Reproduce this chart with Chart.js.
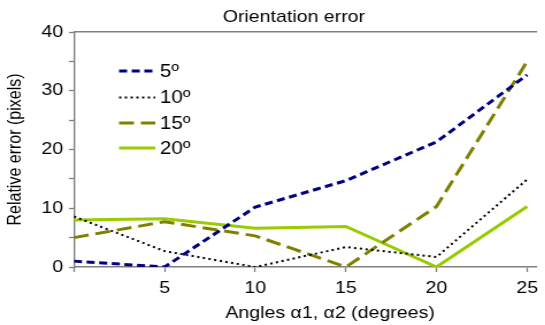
<!DOCTYPE html>
<html>
<head>
<meta charset="utf-8">
<script src="https://cdn.jsdelivr.net/npm/chart.js@4"></script>
<style>
  html, body { margin: 0; padding: 0; background: #fff; overflow: hidden; }
  /* the original picture is stretched sideways, so draw narrow and stretch */
  #wrap { width: 474px; height: 325px; transform: scaleX(1.15); transform-origin: 0 0; }
</style>
</head>
<body>
<div id="wrap"><canvas id="chart"></canvas></div>
<script>
// angles on the x axis (degrees)
var angles = [0, 5, 10, 15, 20, 25];
var yTicks = [0, 10, 20, 30, 40];

// relative error per orientation
var err5  = [1.0, 0.0, 10.2, 14.7, 21.3, 32.7];
var err10 = [8.6, 2.7, 0.0, 3.4, 1.7, 14.9];
var err15 = [5.0, 7.7, 5.3, 0.0, 10.3, 35.0];
var err20 = [8.0, 8.2, 6.6, 6.9, 0.0, 10.3];

var seriesNames = ['5º', '10º', '15º', '20º'];

var FONT = "'Liberation Sans', Arial, sans-serif";
var AXIS = '#7f7f7f';

function pts(vals) {
  return angles.map(function (a, i) { return { x: a, y: vals[i] }; });
}

var data = {
  datasets: [
    { label: seriesNames[0], data: pts(err5),  borderColor: '#000080', borderWidth: 3,   borderDash: [7, 4] },
    { label: seriesNames[1], data: pts(err10), borderColor: '#000000', borderWidth: 2,   borderDash: [2, 3] },
    { label: seriesNames[2], data: pts(err15), borderColor: '#808000', borderWidth: 3,   borderDash: [13, 6] },
    { label: seriesNames[3], data: pts(err20), borderColor: '#99cc00', borderWidth: 3 }
  ]
};

// titles and the legend drawn by hand (they sit off-centre / inside the plot)
var extras = {
  id: 'extras',
  afterDatasetsDraw: function (chart) {
    var ctx = chart.ctx;
    var area = chart.chartArea;
    ctx.save();
    ctx.fillStyle = '#000';
    ctx.textBaseline = 'middle';
    ctx.textAlign = 'center';
    ctx.font = '17px ' + FONT;
    ctx.fillText('Orientation error', 255.6, 17.5);
    ctx.fillText('Angles α1, α2 (degrees)', 287, 313);

    ctx.textAlign = 'left';
    var rows = [71, 97.5, 123, 148];
    chart.data.datasets.forEach(function (ds, i) {
      var y = area.top + rows[i] - 32;
      ctx.strokeStyle = ds.borderColor;
      ctx.lineWidth = ds.borderWidth;
      ctx.setLineDash(ds.borderDash || []);
      ctx.beginPath();
      ctx.moveTo(103.5, y);
      ctx.lineTo(135, y);
      ctx.stroke();
      ctx.setLineDash([]);
      ctx.font = '18px ' + FONT;
      ctx.fillText(ds.label, 139, y + 1);
    });
    ctx.restore();
  }
};

new Chart(document.getElementById('chart'), {
  type: 'line',
  data: data,
  plugins: [extras],
  options: {
    responsive: true,
    maintainAspectRatio: false,
    animation: false,
    layout: { padding: 0 },
    elements: {
      point: { radius: 0 },
      line: { tension: 0, borderCapStyle: 'butt', fill: false }
    },
    plugins: {
      legend: { display: false },
      title: { display: false },
      tooltip: { enabled: false }
    },
    scales: {
      x: {
        type: 'linear',
        min: 0,
        max: 25.5,
        afterBuildTicks: function (s) {
          s.ticks = angles.map(function (v) { return { value: v }; });
        },
        afterFit: function (s) { s.height = 58; },
        ticks: {
          color: '#000',
          font: { family: FONT, size: 17 },
          padding: 6,
          maxRotation: 0,
          autoSkip: false,
          callback: function (v) { return v === 0 ? '' : v; }
        },
        grid: { drawOnChartArea: false, tickLength: 5, color: AXIS, tickWidth: 1.3 },
        border: { color: AXIS, width: 1.6 }
      },
      x2: {
        type: 'linear',
        position: 'top',
        afterFit: function (s) { s.height = 32; },
        ticks: { display: false },
        grid: { display: false },
        border: { color: AXIS, width: 1.6 }
      },
      y: {
        min: 0,
        max: 40,
        afterBuildTicks: function (s) {
          var t = [];
          for (var v = 0; v <= 40; v += 5) t.push({ value: v });
          s.ticks = t;
        },
        afterFit: function (s) { s.width = 64.3; },
        ticks: {
          color: '#000',
          font: { family: FONT, size: 17 },
          padding: 5,
          callback: function (v) { return yTicks.indexOf(v) >= 0 ? v : ''; }
        },
        grid: { drawOnChartArea: false, tickLength: 4.3, color: AXIS, tickWidth: 1.3 },
        border: { color: AXIS, width: 1.4 },
        title: {
          display: true,
          text: 'Relative error (pixels)',
          color: '#000',
          font: { family: FONT, size: 16 },
          padding: { top: 4, bottom: 0 }
        }
      }
    }
  }
});
</script>
</body>
</html>
